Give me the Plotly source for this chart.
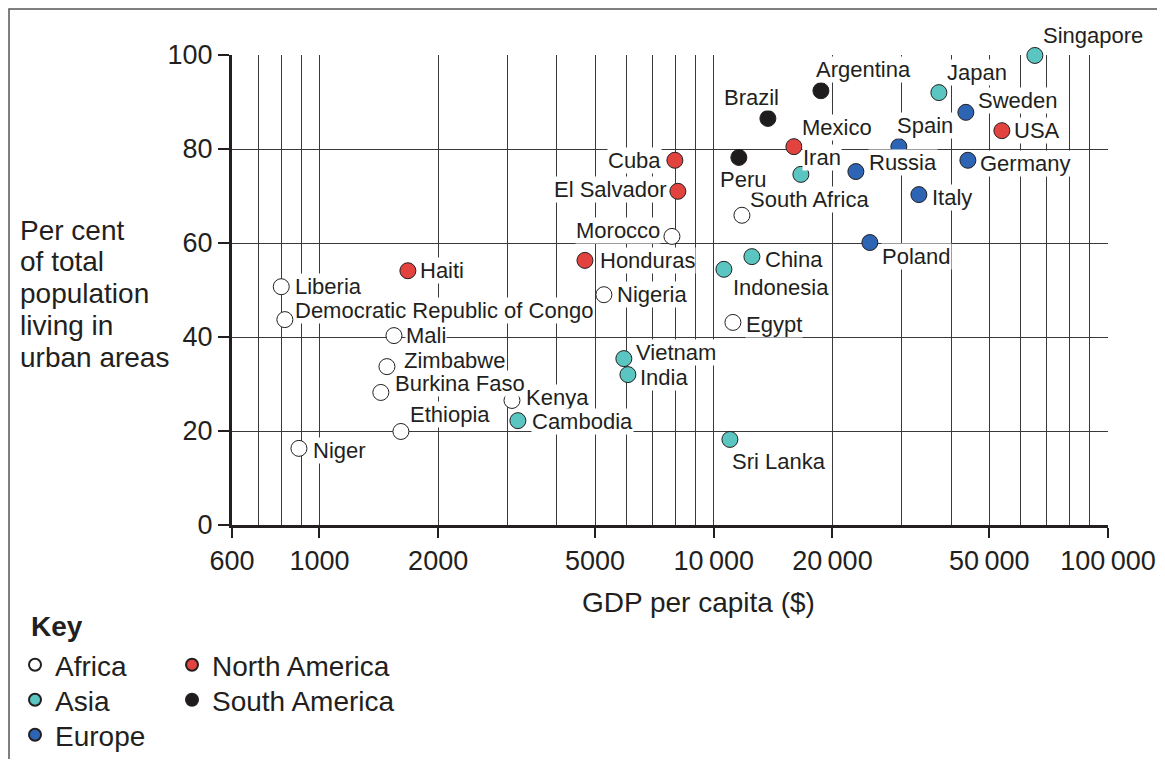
import numpy as np
import plotly.graph_objects as go

# ---------------- data ----------------
africa_names = ["Liberia", "Democratic Republic of Congo", "Niger", "Mali", "Zimbabwe",
                "Burkina Faso", "Ethiopia", "Kenya", "Nigeria", "Morocco", "South Africa", "Egypt"]
africa_gdp = [800, 817, 887, 1545, 1483, 1431, 1609, 3078, 5265, 7834, 11790, 11185]
africa_urban = [50.7, 43.7, 16.3, 40.3, 33.7, 28.2, 19.9, 26.5, 49.0, 61.4, 65.9, 43.1]

asia_names = ["Cambodia", "Vietnam", "India", "Indonesia", "China", "Sri Lanka", "Iran",
              "Japan", "Singapore"]
asia_gdp = [3186, 5916, 6058, 10612, 12497, 10990, 16636, 37240, 65245]
asia_urban = [22.2, 35.4, 32.0, 54.4, 57.1, 18.2, 74.6, 92.0, 99.9]

europe_names = ["Russia", "Spain", "Sweden", "Germany", "Italy", "Poland"]
europe_gdp = [22938, 29480, 43600, 44118, 33140, 24890]
europe_urban = [75.2, 80.5, 87.8, 77.6, 70.3, 60.1]

namerica_names = ["Haiti", "Honduras", "Cuba", "El Salvador", "Mexico", "USA"]
namerica_gdp = [1676, 4714, 7970, 8110, 15970, 53800]
namerica_urban = [54.1, 56.3, 77.6, 71.0, 80.5, 83.9]

samerica_names = ["Brazil", "Argentina", "Peru"]
samerica_gdp = [13720, 18700, 11580]
samerica_urban = [86.5, 92.4, 78.2]

x_tickvals = [600, 1000, 2000, 5000, 10000, 20000, 50000, 100000]
x_ticktext = ["600", "1000", "2000", "5000", "10\u2009000", "20\u2009000", "50\u2009000", "100\u2009000"]
x_minor_grid = [700, 800, 900, 3000, 4000, 6000, 7000, 8000, 9000,
                30000, 40000, 60000, 70000, 80000, 90000]
y_tickvals = [0, 20, 40, 60, 80, 100]

y_title_lines = ["Per cent", "of total", "population", "living in", "urban areas"]

# label placement: (anchor, xshift, yshift)
label_pos = {
    "Liberia": ("left", 13, 0), "Democratic Republic of Congo": ("left", 9, 9),
    "Niger": ("left", 13, -2), "Mali": ("left", 11, 0), "Zimbabwe": ("left", 16, 6),
    "Burkina Faso": ("left", 13, 9), "Ethiopia": ("left", 8, 17), "Kenya": ("left", 13, 3),
    "Nigeria": ("left", 12, 0), "Morocco": ("right", -11, 6), "South Africa": ("left", 7, 16),
    "Egypt": ("left", 12, -2),
    "Cambodia": ("left", 13, -1), "Vietnam": ("left", 11, 6), "India": ("left", 11, -3),
    "Indonesia": ("left", 8, -18), "China": ("left", 12, -3), "Sri Lanka": ("left", 1, -22),
    "Iran": ("left", 1, 17), "Japan": ("left", 7, 20), "Singapore": ("left", 7, 20),
    "Russia": ("left", 12, 9), "Spain": ("left", -3, 21), "Sweden": ("left", 11, 12),
    "Germany": ("left", 11, -3), "Italy": ("left", 12, -3), "Poland": ("left", 11, -14),
    "Haiti": ("left", 11, 0), "Honduras": ("left", 14, 0), "Cuba": ("right", -13, 0),
    "El Salvador": ("right", -10, 2), "Mexico": ("left", 7, 19), "USA": ("left", 11, 0),
    "Brazil": ("center", -16, 21), "Argentina": ("left", -6, 21), "Peru": ("left", -20, -22),
}

# (name, names, gdp, urban, colour, legend id, legend marker px x, legend row px y)
groups = [
    ("Africa", africa_names, africa_gdp, africa_urban, "#ffffff", "legend", 35, 665),
    ("Asia", asia_names, asia_gdp, asia_urban, "#5bc5c1", "legend2", 35, 700),
    ("Europe", europe_names, europe_gdp, europe_urban, "#2d64b3", "legend3", 35, 735),
    ("North America", namerica_names, namerica_gdp, namerica_urban, "#e2433e", "legend4", 192, 665),
    ("South America", samerica_names, samerica_gdp, samerica_urban, "#1e1c1d", "legend5", 192, 700),
]

TXT = "#231f20"
FONT = "Liberation Sans, Arial, sans-serif"

# plot area in screenshot pixels: x 232..1108, y 55..525 (page has 8px body margin)
def px_x(X):
    return (X - 232) / 876

def px_y(Y):
    return (525 - Y) / 470

fig = go.Figure()
annotations = []
legends = {}
for gname, names, gdp, urb, col, leg, lx, ly in groups:
    fig.add_trace(go.Scatter(
        x=gdp, y=urb, mode="markers", name=gname, legend=leg, showlegend=True,
        marker=dict(size=16, color=col, line=dict(color="#231f20", width=1)),
        hoverinfo="text", text=names, cliponaxis=False,
    ))
    legends[leg] = dict(
        x=px_x(lx - 20), y=px_y(ly), xanchor="left", yanchor="middle",
        orientation="v", itemsizing="constant", itemwidth=30, visible=True,
        font=dict(size=28, color=TXT, family=FONT), bgcolor="rgba(0,0,0,0)",
    )
    for n, gx, gy in zip(names, gdp, urb):
        anc, xs, ys = label_pos[n]
        annotations.append(dict(
            x=np.log10(gx), y=gy, xref="x", yref="y", text=n, showarrow=False,
            xanchor=anc, yanchor="middle", xshift=xs, yshift=ys,
            font=dict(size=22, color=TXT, family=FONT),
            bgcolor="#ffffff", borderpad=0,
        ))

# y axis title, one line per annotation
for i, line in enumerate(y_title_lines):
    annotations.append(dict(
        x=px_x(18), y=px_y(230 + i * 31.8), xref="paper", yref="paper",
        text=line, showarrow=False, xanchor="left", yanchor="middle",
        font=dict(size=28, color=TXT, family=FONT),
    ))
annotations.append(dict(
    x=px_x(698), y=px_y(602), xref="paper", yref="paper",
    text="GDP per capita ($)", showarrow=False, xanchor="center", yanchor="middle",
    font=dict(size=28, color=TXT, family=FONT),
))
annotations.append(dict(
    x=px_x(29), y=px_y(626), xref="paper", yref="paper",
    text="<b>Key</b>", showarrow=False, xanchor="left", yanchor="middle",
    font=dict(size=28, color=TXT, family=FONT),
))

fig.update_layout(
    width=1149, height=751,
    margin=dict(l=224, r=49, t=47, b=234, autoexpand=False),
    paper_bgcolor="#ffffff", plot_bgcolor="#ffffff",
    font=dict(family=FONT, color=TXT),
    showlegend=True,
    annotations=annotations,
    shapes=[dict(
        type="rect", xref="paper", yref="paper",
        x0=px_x(9), x1=px_x(1190), y0=px_y(790), y1=px_y(9),
        line=dict(color="#555555", width=1.5), fillcolor="rgba(0,0,0,0)", layer="below",
    )],
    **legends,
)

fig.update_xaxes(
    type="log", range=[np.log10(600), np.log10(100000)],
    tickmode="array", tickvals=x_tickvals, ticktext=x_ticktext,
    ticks="outside", ticklen=10, tickwidth=1.5, tickcolor="#231f20",
    tickfont=dict(size=27, color=TXT, family=FONT),
    showline=True, linecolor="#231f20", linewidth=3,
    showgrid=True, gridcolor="#3a3a3a", gridwidth=1,
    minor=dict(tickmode="array", tickvals=x_minor_grid, showgrid=True,
               gridcolor="#3a3a3a", gridwidth=1, ticks=""),
    zeroline=False, automargin=False,
)
fig.update_yaxes(
    range=[0, 100], tickmode="array", tickvals=y_tickvals,
    ticks="outside", ticklen=11, tickwidth=1.5, tickcolor="#231f20",
    tickfont=dict(size=27, color=TXT, family=FONT),
    showline=True, linecolor="#231f20", linewidth=3,
    showgrid=True, gridcolor="#3a3a3a", gridwidth=1,
    zeroline=False, automargin=False,
)

fig.write_html("out.html")
